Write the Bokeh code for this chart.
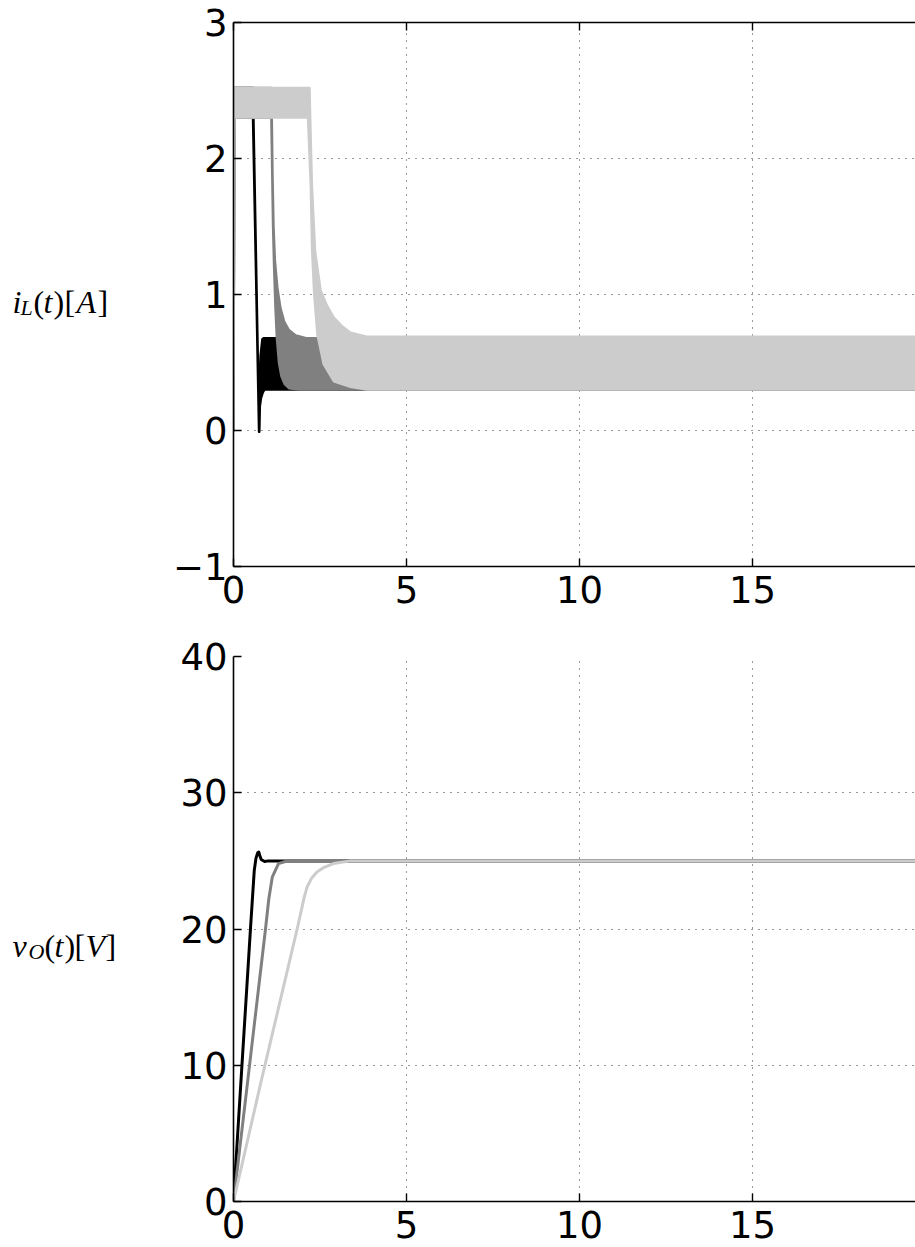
from bokeh.plotting import figure
from bokeh.layouts import column, row
from bokeh.models import Range1d, FixedTicker, LinearAxis
from bokeh.core.properties import value
from bokeh.embed import file_html
from bokeh.resources import INLINE

# ---------------- data ----------------
x_ticks = [0, 5, 10, 15]
iL_ticks = [-1, 0, 1, 2, 3]
vO_ticks = [0, 10, 20, 30, 40]
colors = ["#000000", "#808080", "#cccccc"]

# inductor current: upper / lower ripple envelopes of each trace
blk_t_up = [0, 0.03, 0.57, 0.58, 0.745, 0.76, 0.78, 0.83, 0.87, 19.8]
blk_i_up = [0, 2.52, 2.52, 2.30, -0.01, 0.40, 0.55, 0.67, 0.68, 0.68]
blk_t_lo = [0, 0.03, 0.56, 0.735, 0.75, 0.765, 0.80, 0.85, 0.90, 19.8]
blk_i_lo = [0, 2.30, 2.30, -0.01, -0.01, 0.18, 0.24, 0.28, 0.30, 0.30]

gry_t_up = [0, 0.03, 1.10, 1.11, 1.13, 1.16, 1.20, 1.27, 1.36, 1.47, 1.60, 1.80, 2.10, 19.8]
gry_i_up = [0, 2.52, 2.52, 2.30, 1.90, 1.50, 1.25, 1.05, 0.90, 0.80, 0.74, 0.70, 0.68, 0.68]
gry_t_lo = [0, 0.03, 1.09, 1.115, 1.14, 1.17, 1.21, 1.25, 1.31, 1.38, 1.48, 1.60, 1.90, 19.8]
gry_i_lo = [0, 2.30, 2.30, 1.90, 1.50, 1.20, 0.90, 0.68, 0.50, 0.40, 0.34, 0.31, 0.30, 0.30]

lgr_t_up = [0, 0.03, 2.20, 2.22, 2.27, 2.36, 2.52, 2.70, 2.90, 3.13, 3.38, 3.85, 19.8]
lgr_i_up = [0, 2.52, 2.52, 2.30, 1.80, 1.32, 1.03, 0.92, 0.83, 0.77, 0.72, 0.69, 0.69]
lgr_t_lo = [0, 0.03, 2.15, 2.23, 2.27, 2.33, 2.42, 2.60, 2.90, 3.38, 3.85, 19.8]
lgr_i_lo = [0, 2.30, 2.30, 1.80, 1.32, 1.00, 0.71, 0.49, 0.36, 0.32, 0.30, 0.30]

# output voltage
blk_t_v = [0, 0.20, 0.49, 0.60, 0.65, 0.70, 0.73, 0.76, 0.80, 0.90, 1.00, 19.8]
blk_v = [0, 8.2, 20.0, 24.3, 25.2, 25.6, 25.65, 25.4, 25.1, 24.95, 25.0, 25.0]
gry_t_v = [0, 0.41, 0.925, 1.02, 1.12, 1.30, 1.50, 1.80, 19.8]
gry_v = [0, 8.84, 20.0, 22.2, 23.8, 24.8, 24.95, 25.0, 25.0]
lgr_t_v = [0, 0.80, 1.84, 2.05, 2.13, 2.25, 2.42, 2.60, 2.89, 3.38, 19.8]
lgr_v = [0, 8.84, 20.0, 22.4, 23.1, 23.7, 24.2, 24.5, 24.8, 25.0, 25.0]

# y-axis label pieces: (text, italic, subscript)
iL_label = [("i", True, False), ("L", True, True), ("(", False, False), ("t", True, False),
            (")", False, False), ("[", False, False), ("A", True, False), ("]", False, False)]
vO_label = [("v", True, False), ("O", True, True), ("(", False, False), ("t", True, False),
            (")", False, False), ("[", False, False), ("V", True, False), ("]", False, False)]

# ---------------- layout ----------------
PAGE_W, PAGE_H = 915, 1247
LAB_W = 130
FRAME_L = 233
X_END = (PAGE_W - FRAME_L) / 34.6
TICK_FONT = "DejaVu Sans"
LBL_FONT = "Liberation Serif"

H1 = 622
H2 = PAGE_H - H1


def make_fig(h, top, bottom, yr, yticks):
    p = figure(width=PAGE_W - LAB_W, height=h, x_range=Range1d(0, X_END), y_range=Range1d(*yr),
               output_backend="svg", toolbar_location=None,
               min_border_left=FRAME_L - LAB_W, min_border_right=0,
               min_border_top=top, min_border_bottom=bottom)
    p.outline_line_color = None
    for ax, ticks in ((p.xaxis[0], x_ticks), (p.yaxis[0], yticks)):
        ax.ticker = FixedTicker(ticks=ticks)
        ax.major_tick_in = 8
        ax.major_tick_out = 0
        ax.minor_tick_in = 0
        ax.minor_tick_out = 0
        ax.axis_line_width = 1.6
        ax.axis_line_color = "black"
        ax.major_tick_line_width = 1.4
        ax.major_label_text_font = TICK_FONT
        ax.major_label_text_font_size = "37px"
        ax.major_label_text_color = "black"
        ax.major_label_standoff = 6
    p.xaxis[0].major_label_standoff = 9
    p.xaxis[0].major_label_text_line_height = 0.8
    p.xgrid.ticker = FixedTicker(ticks=x_ticks)
    p.ygrid.ticker = FixedTicker(ticks=yticks)
    for g in (p.xgrid, p.ygrid):
        g.grid_line_color = "#333333"
        g.grid_line_dash = "1 6"
        g.grid_line_width = 1
    return p


def make_label_fig(h, y_top, pieces, x_pos, baseline):
    lf = figure(width=LAB_W, height=h, x_range=Range1d(0, LAB_W), y_range=Range1d(y_top + h, y_top),
                output_backend="svg", toolbar_location=None, x_axis_type=None, y_axis_type=None,
                min_border=0, min_border_left=0, min_border_right=0, min_border_top=0,
                min_border_bottom=0)
    lf.outline_line_color = None
    lf.grid.visible = False
    for (txt, italic, sub), x in zip(pieces, x_pos):
        lf.text(x=[x], y=[baseline + (6 if sub else 0)], text=[txt],
                text_font=value(LBL_FONT), text_font_style="italic" if italic else "normal",
                text_font_size=value("22px" if sub else "32px"), text_color="black",
                text_baseline="alphabetic", text_align="left")
    return lf


p1 = make_fig(H1, 22, H1 - 22 - 544, (-1, 3), iL_ticks)
p1.yaxis[0].major_label_overrides = {-1: "\u22121"}
top_ax = LinearAxis(ticker=FixedTicker(ticks=x_ticks), major_label_text_font_size="0px",
                    major_tick_in=8, major_tick_out=0, minor_tick_in=0, minor_tick_out=0,
                    major_label_standoff=0, axis_line_width=1.6, major_tick_line_width=1.4)
top_ax.major_label_overrides = {t: "" for t in x_ticks}
p1.add_layout(top_ax, "above")

series_iL = [
    (blk_t_up, blk_i_up, blk_t_lo, blk_i_lo),
    (gry_t_up, gry_i_up, gry_t_lo, gry_i_lo),
    (lgr_t_up, lgr_i_up, lgr_t_lo, lgr_i_lo),
]
for (tu, iu, tl, il), c in zip(series_iL, colors):
    p1.patch(x=list(tu) + list(tl)[::-1], y=list(iu) + list(il)[::-1],
             fill_color=c, line_color=c, line_width=2.2, line_join="round")

top2 = 656 - H1
p2 = make_fig(H2, top2, H2 - top2 - 545, (0, 40), vO_ticks)
series_vO = [(blk_t_v, blk_v), (gry_t_v, gry_v), (lgr_t_v, lgr_v)]
for (t, v), c in zip(series_vO, colors):
    p2.line(t, v, line_color=c, line_width=3, line_join="round")

lab1 = make_label_fig(H1, 0, iL_label, [12, 20, 33, 43, 53, 64, 76, 97], 320)
lab2 = make_label_fig(H2, H1, vO_label, [12, 28, 44, 54, 64, 74, 85, 105], 954)

layout = column(row(lab1, p1, spacing=0), row(lab2, p2, spacing=0), spacing=0)
open("out.html", "w").write(file_html(layout, INLINE))
